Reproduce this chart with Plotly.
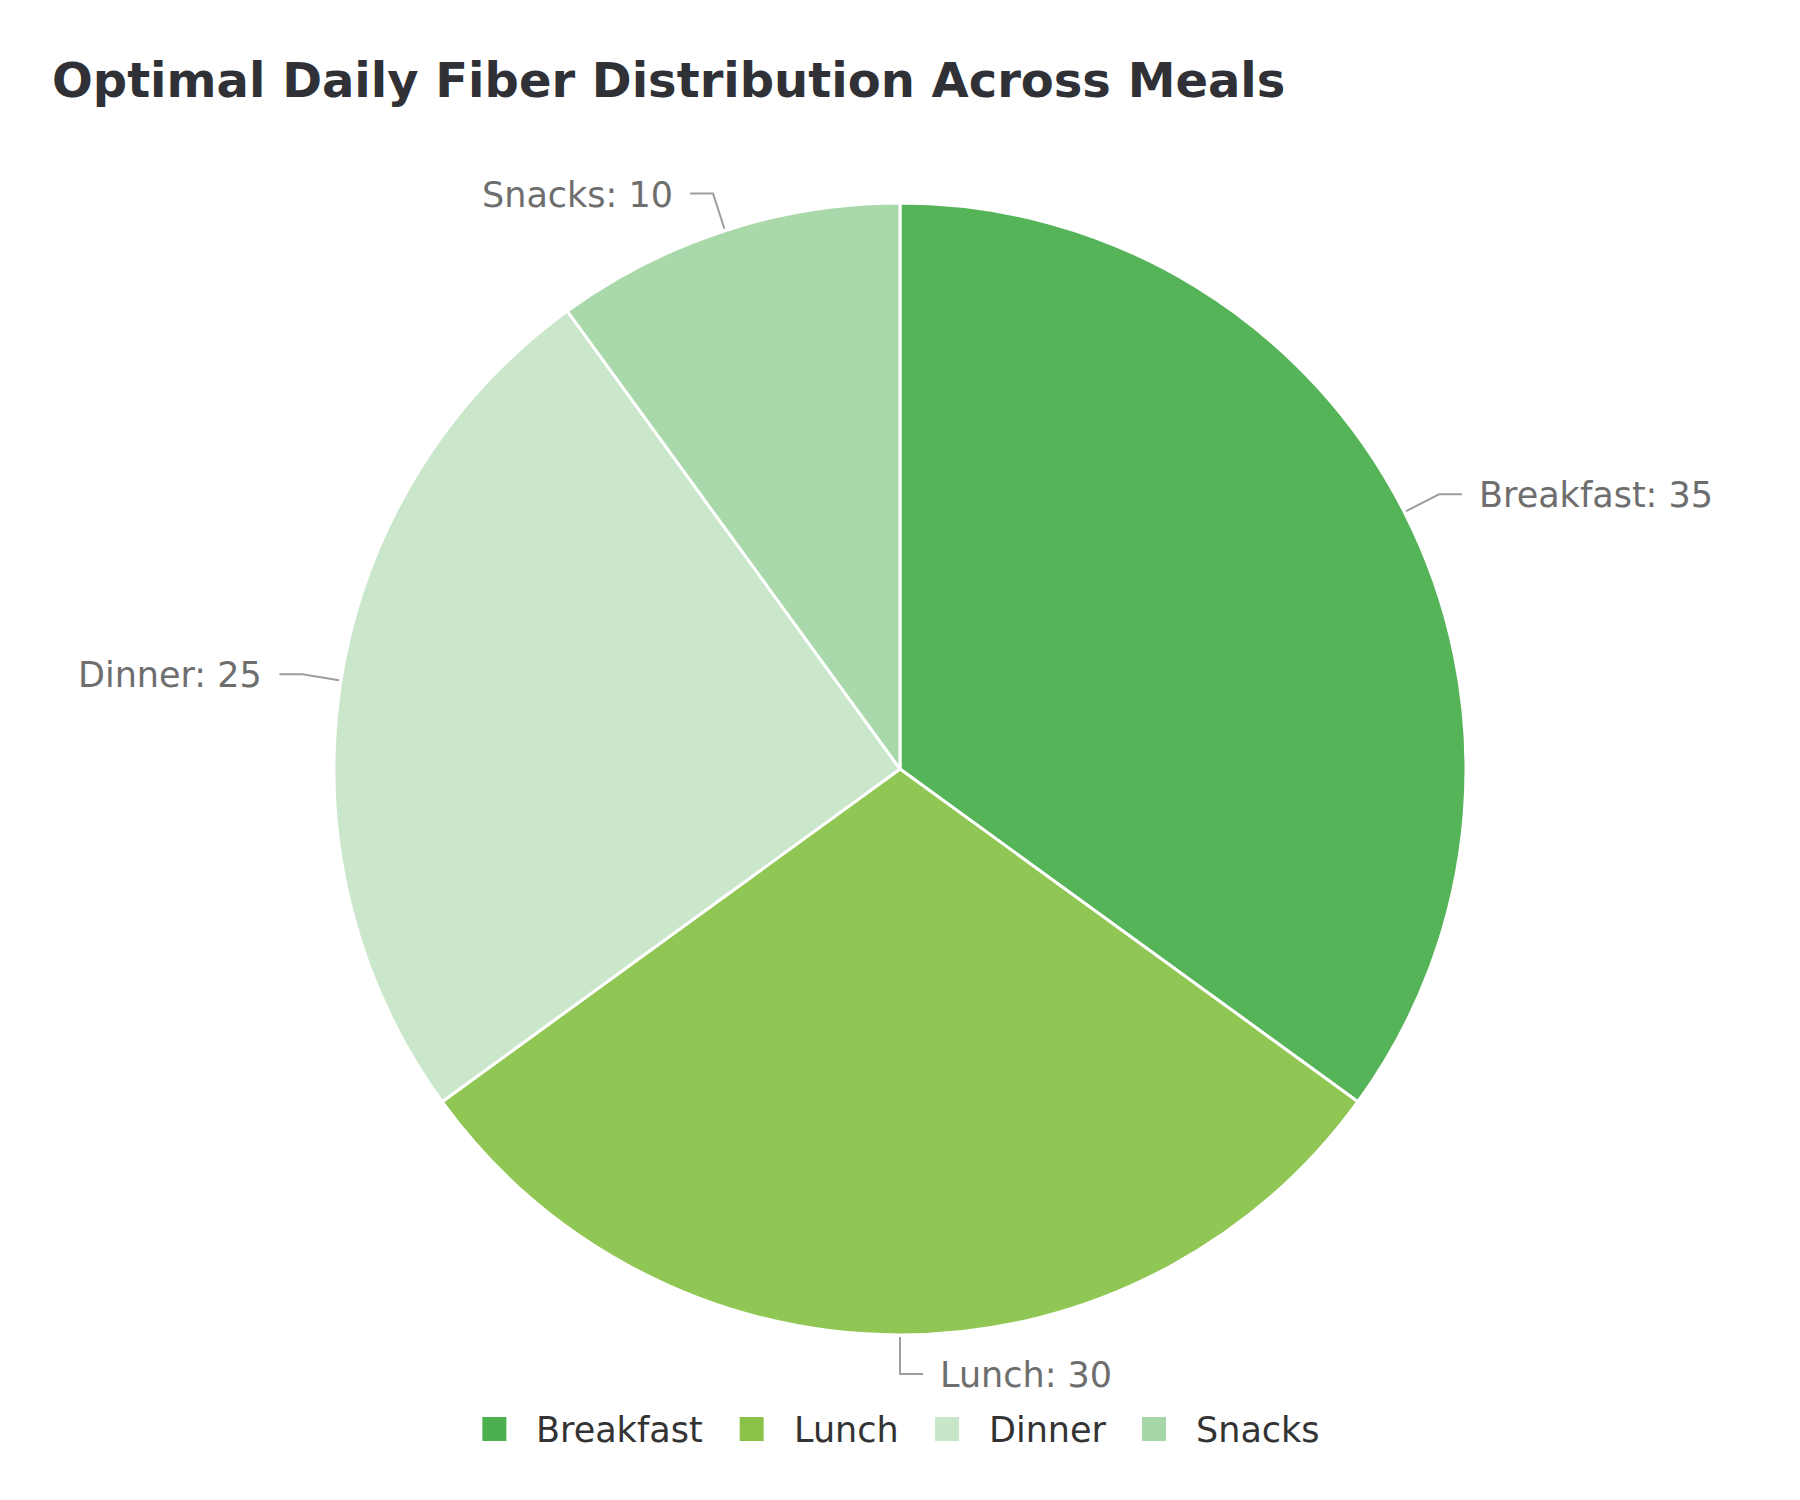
import math
import plotly.graph_objects as go

# data
meals = ["Breakfast", "Lunch", "Dinner", "Snacks"]
fiber = [35, 30, 25, 10]
colors = ["#4caf50", "#8bc34a", "#c8e6c9", "#a5d6a7"]
title = "Optimal Daily Fiber Distribution Across Meals"

PAGE = 8                    # default body margin of the html page
W, H = 1800 - 2 * PAGE, 1500 - 2 * PAGE
cx, cy, R = 900, 769, 566   # pie centre / radius in window px
FONT = "DejaVu Sans"

def px(x):
    return (x - PAGE) / W

def py(y):
    return 1 - (y - PAGE) / H

# rough DejaVu Sans advance widths (em) for the legend layout
CW = {"B": .684, "r": .411, "e": .615, "a": .613, "k": .579, "f": .352,
      "s": .521, "t": .392, "L": .559, "u": .634, "n": .634, "c": .550,
      "h": .634, "D": .770, "i": .278, "S": .635, " ": .318, ":": .337}

def text_w(s, size):
    return sum(CW.get(ch, .636) for ch in s) * size

fig = go.Figure()
fig.add_trace(go.Pie(
    labels=meals,
    values=fiber,
    sort=False,
    direction="clockwise",
    rotation=0,
    textinfo="none",
    hovertemplate="%{label}: %{value}<extra></extra>",
    marker=dict(colors=colors, line=dict(color="white", width=3)),
    opacity=0.95,
    domain=dict(x=[px(cx - R), px(cx + R)], y=[py(cy + R), py(cy - R)]),
    showlegend=False,
))

shapes = []
annotations = []

# leader lines + outside labels
total = sum(fiber)
acc = 0
for name, v in zip(meals, fiber):
    mid = (acc + v / 2) / total * 2 * math.pi
    acc += v
    sx, sy = math.sin(mid), -math.cos(mid)
    side = 1 if sx >= -1e-9 else -1
    x0, y0 = cx + (R + 2) * sx, cy + (R + 2) * sy
    x1, y1 = cx + (R + 39) * sx, cy + (R + 39) * sy
    x2 = x1 + side * 23
    shapes.append(dict(
        type="path", xref="paper", yref="paper", layer="above",
        path=f"M {px(x0)},{py(y0)} L {px(x1)},{py(y1)} L {px(x2)},{py(y1)}",
        line=dict(color="#9e9e9e", width=2),
    ))
    annotations.append(dict(
        x=px(x2 + side * 15), y=py(y1 + 1), xref="paper", yref="paper",
        text=f"{name}: {v}", showarrow=False,
        xanchor="left" if side > 0 else "right", yanchor="middle",
        font=dict(family=FONT, size=35, color="#6e6e6e"),
    ))

# legend drawn by hand (square markers are bigger than plotly's)
LEG_FS, SQ, GAP_T, GAP_I = 35, 24, 28, 38
widths = [SQ + GAP_T + text_w(m, LEG_FS) for m in meals]
total_w = sum(widths) + GAP_I * (len(meals) - 1)
lx = cx - total_w / 2
ly = 1429
for m, c, w in zip(meals, colors, widths):
    shapes.append(dict(
        type="rect", xref="paper", yref="paper",
        x0=px(lx), x1=px(lx + SQ), y0=py(ly - SQ / 2), y1=py(ly + SQ / 2),
        fillcolor=c, line=dict(width=0),
    ))
    annotations.append(dict(
        x=px(lx + SQ + GAP_T), y=py(ly + 1), xref="paper", yref="paper",
        text=m, showarrow=False, xanchor="left", yanchor="middle",
        font=dict(family=FONT, size=LEG_FS, color="#333333"),
    ))
    lx += w + GAP_I

annotations.append(dict(
    x=px(50), y=py(80), xref="paper", yref="paper",
    text=title, showarrow=False, xanchor="left", yanchor="middle",
    font=dict(family=FONT, size=48, color="#303136", weight="bold"),
))

fig.update_layout(
    width=W, height=H,
    autosize=False,
    margin=dict(l=0, r=0, t=0, b=0),
    paper_bgcolor="white",
    plot_bgcolor="white",
    showlegend=False,
    shapes=shapes,
    annotations=annotations,
)

fig.write_html("out.html")
